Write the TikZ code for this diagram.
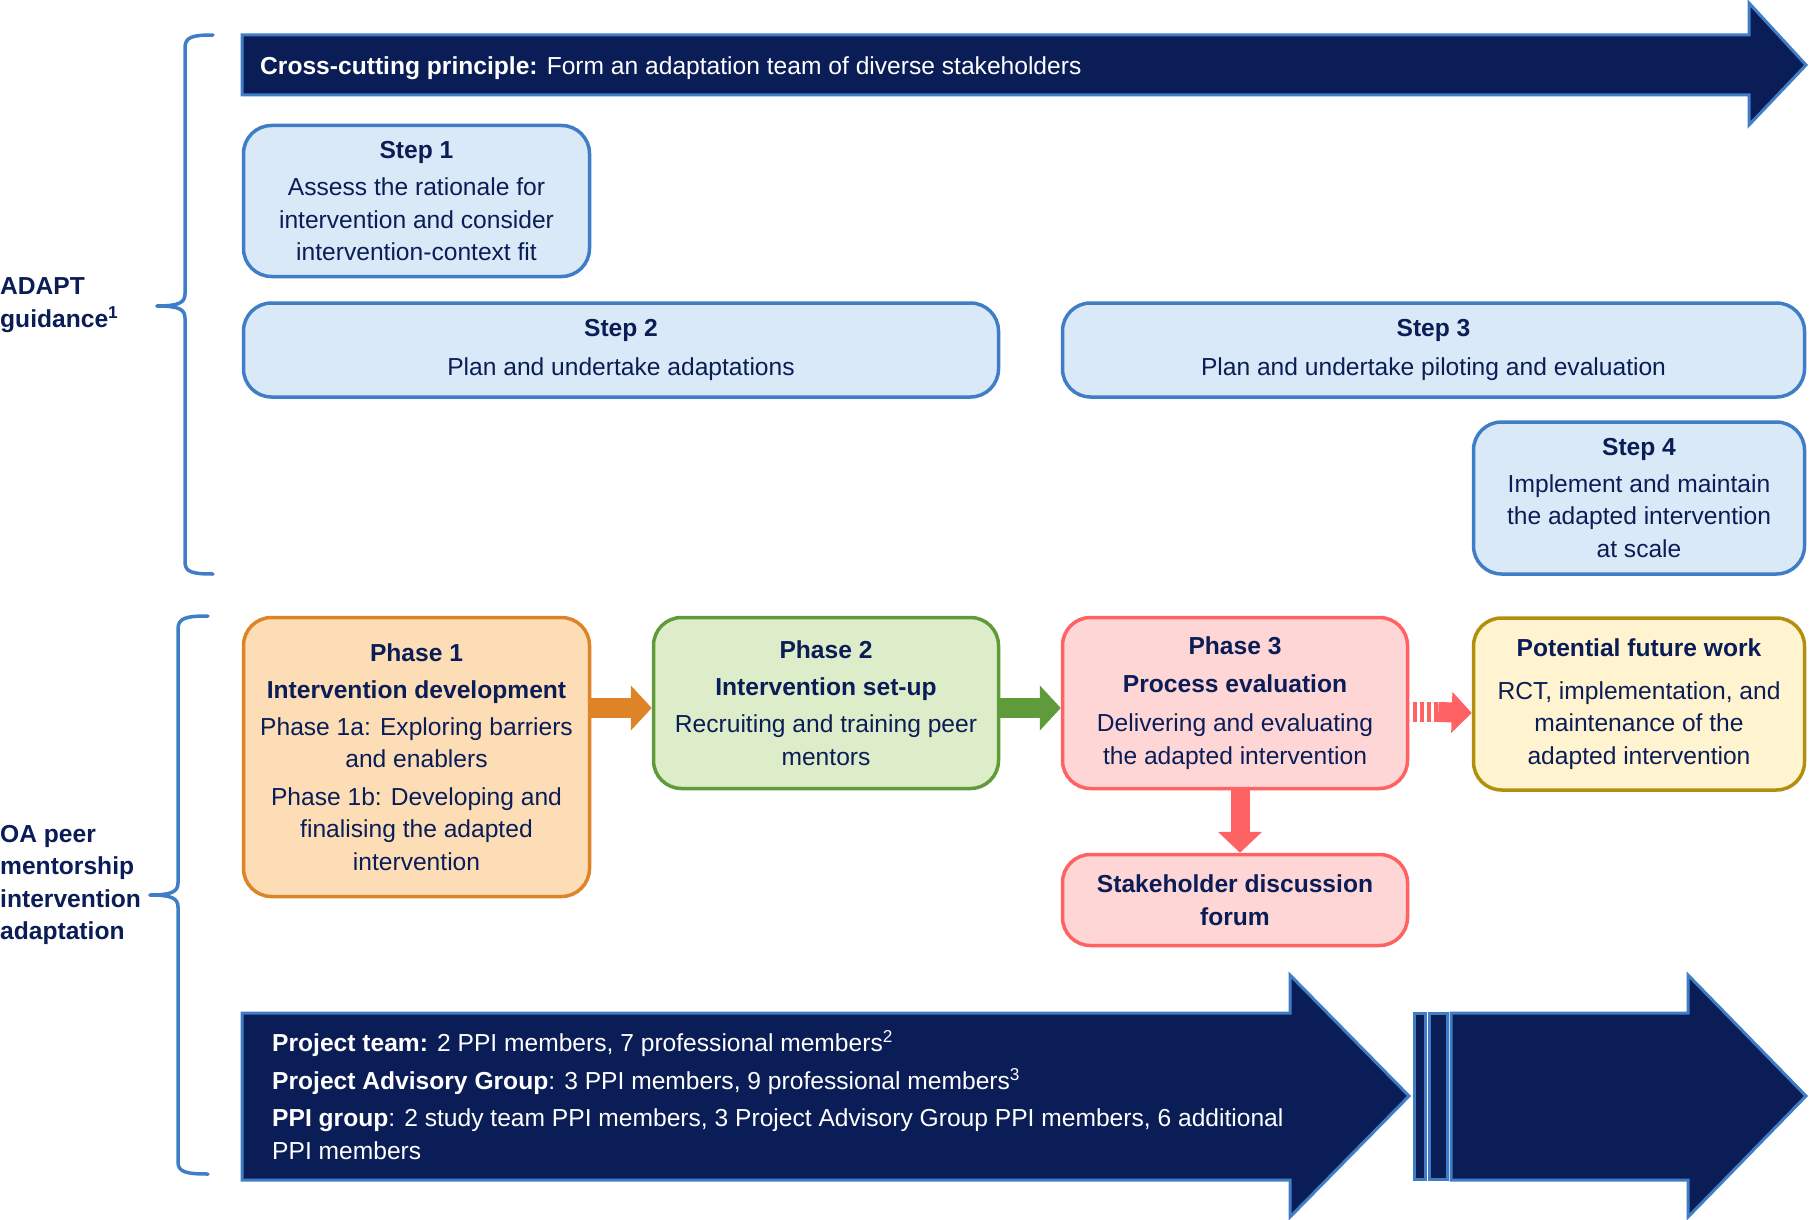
\documentclass[tikz,border=0pt]{standalone}
\usepackage{fontspec}
\setmainfont{Liberation Sans}
\usetikzlibrary{arrows.meta,calc}

\definecolor{navy}{HTML}{0B1D56}
\definecolor{edgeblue}{HTML}{3F7EC6}
\definecolor{stepfill}{HTML}{DAE9F8}
\definecolor{orangefill}{HTML}{FCDDB6}
\definecolor{orangeline}{HTML}{DE8426}
\definecolor{greenfill}{HTML}{DEEDC9}
\definecolor{greenline}{HTML}{5F9A3B}
\definecolor{redfill}{HTML}{FFD6D6}
\definecolor{redline}{HTML}{FF6262}
\definecolor{goldfill}{HTML}{FFF3D0}
\definecolor{goldline}{HTML}{B38F0E}

\begin{document}
\begin{tikzpicture}[x=1pt, y=-1pt,
  font=\fontsize{24.6}{32.5}\selectfont, text=navy,
  box/.style={draw, rounded corners=28pt, line width=3.5pt, align=center, inner sep=0pt},
  stepbox/.style={box, draw=edgeblue, fill=stepfill},
  phaseone/.style={box, draw=orangeline, fill=orangefill},
  phasetwo/.style={box, draw=greenline, fill=greenfill},
  phasethree/.style={box, draw=redline, fill=redfill},
  futurebox/.style={box, draw=goldline, fill=goldfill},
  bigarrow/.style={fill=navy, draw=edgeblue, line width=3pt},
  fatarrow/.style={draw=#1, line width=20pt, -{Triangle[length=21pt,width=44pt]}},
  bracestyle/.style={draw=edgeblue, line width=3.5pt, line cap=round}]
  \useasboundingbox (0,0) rectangle (1810,1220);

  % Cross-cutting arrow
  \draw[bigarrow] (242,35) -- (1749,35) -- (1749,3) -- (1806,65) -- (1749,125) -- (1749,95) -- (242,95) -- cycle;
  \node[anchor=west, text=white, inner sep=0pt] (cross) at (260,68) {\textbf{Cross-cutting principle:} Form an adaptation team of diverse stakeholders};

  % Braces
  \draw[bracestyle] (213,35) .. controls (192,35) and (185,37) .. (185,48) -- (185,294) .. controls (185,303) and (178,306) .. (157,306);
  \draw[bracestyle] (157,306) .. controls (178,306) and (185,309) .. (185,318) -- (185,562) .. controls (185,572) and (192,574) .. (213,574);
  \draw[bracestyle] (208,616) .. controls (186,616) and (178,618) .. (178,629) -- (178,883) .. controls (178,892) and (171,895) .. (150,895);
  \draw[bracestyle] (150,895) .. controls (171,895) and (178,898) .. (178,907) -- (178,1162) .. controls (178,1172) and (186,1174) .. (208,1174);

  % Side labels
  \node[anchor=west, align=left, inner sep=0pt, font=\fontsize{24.6}{32.5}\selectfont\bfseries] (adapt) at (0,305) {ADAPT\\guidance\textsuperscript{1}};
  \node[anchor=west, align=left, inner sep=0pt, font=\fontsize{24.6}{32.5}\selectfont\bfseries] (oapeer) at (0,885) {OA peer\\mentorship\\intervention\\adaptation};

  % ADAPT steps
  \node[stepbox, minimum width=346pt, minimum height=151pt] (step1) at (416.5,201)
    {\textbf{Step 1}\\[5pt]Assess the rationale for\\intervention and consider\\intervention-context fit};
  \node[stepbox, minimum width=755pt, minimum height=94pt] (step2) at (621,350)
    {\textbf{Step 2}\\[6pt]Plan and undertake adaptations};
  \node[stepbox, minimum width=742pt, minimum height=94pt] (step3) at (1433.5,350)
    {\textbf{Step 3}\\[6pt]Plan and undertake piloting and evaluation};
  \node[stepbox, minimum width=331pt, minimum height=152pt] (step4) at (1639,498)
    {\textbf{Step 4}\\[4.5pt]Implement and maintain\\the adapted intervention\\at scale};

  % Phases
  \node[phaseone, minimum width=346pt, minimum height=279pt] (ph1) at (416.5,757)
    {\textbf{Phase 1}\\[4.5pt]\textbf{Intervention development}\\[4pt]Phase 1a: Exploring barriers\\and enablers\\[5pt]Phase 1b: Developing and\\finalising the adapted\\intervention};
  \node[phasetwo, minimum width=345pt, minimum height=171pt] (ph2) at (826,703)
    {\textbf{Phase 2}\\[4.5pt]\textbf{Intervention set-up}\\[5pt]Recruiting and training peer\\mentors};
  \node[phasethree, minimum width=345pt, minimum height=171pt] (ph3) at (1235,703)
    {\textbf{Phase 3}\\[5pt]\textbf{Process evaluation}\\[7pt]Delivering and evaluating\\the adapted intervention};
  \node[futurebox, minimum width=331pt, minimum height=172pt] (future) at (1639,704)
    {\textbf{Potential future work}\\[10pt]RCT, implementation, and\\maintenance of the\\adapted intervention};
  \node[phasethree, minimum width=345pt, minimum height=91pt] (forum) at (1235,900)
    {\textbf{Stakeholder discussion}\\\textbf{forum}};

  % Phase arrows
  \draw[fatarrow=orangeline] ([yshift=-5pt]ph1.east |- ph2.west) -- ([yshift=-5pt]ph2.west);
  \draw[fatarrow=greenline] ([yshift=-5pt]ph2.east) -- ([yshift=-5pt]ph3.west);
  \coordinate (dash0) at ([yshift=-9pt]ph3.east);
  \foreach \dx in {4,11,18,25}
    \fill[redline] ($(dash0)+(\dx,-10)$) rectangle ++(4,20);
  \draw[fatarrow=redline, -{Triangle[length=20pt,width=40pt]}] ($(dash0)+(29,0)$) -- ([yshift=-9pt]future.west);
  \draw[fatarrow=redline, line width=19pt, -{Triangle[length=21pt,width=43pt]}] ([xshift=5pt]ph3.south) -- ([xshift=5pt]forum.north);

  % Team arrows
  \draw[bigarrow] (242,1013) -- (1290,1013) -- (1290,975) -- (1409,1096) -- (1290,1217) -- (1290,1180) -- (242,1180) -- cycle;
  \draw[bigarrow] (1414,1013) rectangle (1425,1179);
  \draw[bigarrow] (1429,1013) rectangle (1447,1179);
  \draw[bigarrow] (1451,1013) -- (1688,1013) -- (1688,975) -- (1806,1096) -- (1688,1217) -- (1688,1180) -- (1451,1180) -- cycle;
  \node[anchor=west, align=left, text=white, inner sep=0pt] (team) at (272,1095)
    {\textbf{Project team:} 2 PPI members, 7 professional members\textsuperscript{2}\\[5pt]
     \textbf{Project Advisory Group}: 3 PPI members, 9 professional members\textsuperscript{3}\\[5pt]
     \textbf{PPI group}: 2 study team PPI members, 3 Project Advisory Group PPI members, 6 additional\\
     PPI members};
\end{tikzpicture}
\end{document}
